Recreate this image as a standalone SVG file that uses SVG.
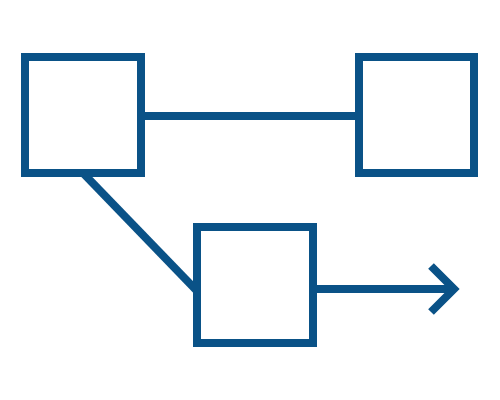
<svg xmlns="http://www.w3.org/2000/svg" width="500" height="400" viewBox="0 0 500 400">
<style>
.n{fill:#fff;stroke:#0a5287;stroke-width:8}
.c{fill:none;stroke:#0a5287;stroke-width:8}
</style>
<rect width="500" height="400" fill="#fff"/>
<g id="connectors">
<line class="c" x1="141" y1="116" x2="359" y2="116"/>
<line class="c" x1="83" y1="173" x2="197" y2="291"/>
<line class="c" x1="313" y1="289" x2="454" y2="289"/>
<polyline class="c" points="431,266 454,289 431,312" stroke-miterlimit="10"/>
</g>
<g id="node1"><rect class="n" x="25" y="57" width="116" height="116"/></g>
<g id="node2"><rect class="n" x="359" y="57" width="115" height="116"/></g>
<g id="node3"><rect class="n" x="197" y="227" width="116" height="116"/></g>
</svg>
